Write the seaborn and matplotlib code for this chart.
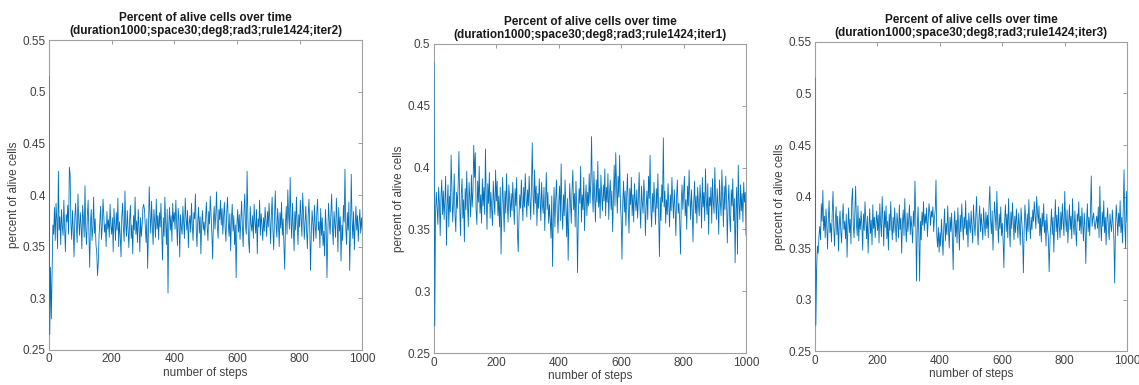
import numpy as np
import pandas as pd
import matplotlib
matplotlib.use("Agg")
import matplotlib.pyplot as plt
from matplotlib.ticker import FormatStrFormatter, MultipleLocator
import seaborn as sns

steps = np.arange(0, 1000.1, 2.5)

iter2 = [
    0.515, 0.265, 0.330, 0.280, 0.325, 0.371, 0.362, 0.388, 0.356, 0.392, 0.375, 0.348, 0.423, 0.366, 0.379, 0.352, 0.386, 0.370, 0.361, 0.395,
    0.368, 0.345, 0.381, 0.374, 0.390, 0.362, 0.427, 0.420, 0.372, 0.357, 0.385, 0.366, 0.340, 0.378, 0.392, 0.369, 0.354, 0.401, 0.376, 0.361,
    0.383, 0.371, 0.348, 0.390, 0.377, 0.359, 0.409, 0.366, 0.352, 0.380, 0.395, 0.361, 0.330, 0.374, 0.386, 0.356, 0.368, 0.398, 0.363, 0.377,
    0.352, 0.344, 0.322, 0.335, 0.361, 0.375, 0.389, 0.357, 0.369, 0.396, 0.380, 0.364, 0.372, 0.350, 0.384, 0.367, 0.376, 0.359, 0.391, 0.370,
    0.362, 0.378, 0.345, 0.387, 0.371, 0.356, 0.383, 0.366, 0.397, 0.350, 0.374, 0.361, 0.340, 0.379, 0.392, 0.368, 0.355, 0.404, 0.372, 0.360,
    0.385, 0.367, 0.349, 0.376, 0.390, 0.358, 0.371, 0.343, 0.380, 0.366, 0.398, 0.362, 0.375, 0.354, 0.386, 0.369, 0.345, 0.378, 0.360, 0.372,
    0.388, 0.391, 0.385, 0.369, 0.354, 0.377, 0.329, 0.365, 0.408, 0.381, 0.363, 0.394, 0.370, 0.352, 0.386, 0.374, 0.359, 0.396, 0.367, 0.380,
    0.357, 0.383, 0.369, 0.392, 0.364, 0.337, 0.378, 0.360, 0.398, 0.373, 0.352, 0.386, 0.305, 0.371, 0.388, 0.366, 0.380, 0.355, 0.392, 0.374,
    0.383, 0.367, 0.395, 0.372, 0.351, 0.387, 0.376, 0.340, 0.381, 0.369, 0.362, 0.389, 0.374, 0.358, 0.397, 0.378, 0.366, 0.385, 0.349, 0.372,
    0.380, 0.364, 0.392, 0.371, 0.356, 0.383, 0.377, 0.401, 0.368, 0.350, 0.375, 0.388, 0.363, 0.379, 0.343, 0.372, 0.385, 0.366, 0.374, 0.361,
    0.378, 0.393, 0.369, 0.356, 0.384, 0.372, 0.399, 0.380, 0.363, 0.338, 0.375, 0.389, 0.367, 0.381, 0.403, 0.370, 0.358, 0.386, 0.376, 0.395,
    0.371, 0.387, 0.362, 0.379, 0.393, 0.368, 0.355, 0.384, 0.398, 0.373, 0.360, 0.382, 0.346, 0.376, 0.391, 0.365, 0.380, 0.352, 0.371, 0.320,
    0.372, 0.386, 0.364, 0.381, 0.357, 0.375, 0.394, 0.368, 0.350, 0.383, 0.401, 0.370, 0.362, 0.423, 0.378, 0.355, 0.344, 0.389, 0.372, 0.365,
    0.380, 0.358, 0.391, 0.374, 0.363, 0.386, 0.343, 0.377, 0.369, 0.395, 0.361, 0.382, 0.371, 0.356, 0.378, 0.365, 0.388, 0.373, 0.360, 0.384,
    0.369, 0.392, 0.376, 0.353, 0.381, 0.398, 0.366, 0.347, 0.379, 0.404, 0.372, 0.359, 0.387, 0.374, 0.350, 0.383, 0.368, 0.393, 0.361, 0.377,
    0.354, 0.328, 0.372, 0.389, 0.362, 0.405, 0.381, 0.367, 0.417, 0.375, 0.358, 0.392, 0.370, 0.346, 0.384, 0.366, 0.398, 0.373, 0.352, 0.381,
    0.369, 0.395, 0.378, 0.360, 0.402, 0.383, 0.357, 0.374, 0.389, 0.365, 0.348, 0.379, 0.396, 0.370, 0.327, 0.362, 0.385, 0.373, 0.355, 0.390,
    0.371, 0.358, 0.383, 0.396, 0.366, 0.374, 0.349, 0.387, 0.361, 0.378, 0.351, 0.365, 0.341, 0.386, 0.370, 0.320, 0.359, 0.392, 0.375, 0.362,
    0.381, 0.401, 0.368, 0.352, 0.384, 0.372, 0.359, 0.397, 0.376, 0.345, 0.388, 0.365, 0.379, 0.336, 0.371, 0.356, 0.390, 0.374, 0.425, 0.368,
    0.352, 0.383, 0.366, 0.393, 0.327, 0.362, 0.420, 0.377, 0.358, 0.384, 0.347, 0.371, 0.389, 0.366, 0.380, 0.355, 0.374, 0.386, 0.363, 0.378,
    0.366,
]

iter1 = [
    0.485, 0.272, 0.362, 0.380, 0.368, 0.354, 0.384, 0.371, 0.345, 0.377, 0.390, 0.362, 0.381, 0.358, 0.374, 0.393, 0.337, 0.369, 0.386, 0.352,
    0.377, 0.364, 0.410, 0.383, 0.356, 0.372, 0.395, 0.361, 0.348, 0.380, 0.367, 0.385, 0.413, 0.370, 0.345, 0.379, 0.391, 0.359, 0.374, 0.340,
    0.383, 0.366, 0.397, 0.371, 0.352, 0.388, 0.375, 0.360, 0.394, 0.368, 0.381, 0.418, 0.392, 0.412, 0.366, 0.354, 0.389, 0.372, 0.401, 0.363,
    0.378, 0.355, 0.391, 0.369, 0.384, 0.362, 0.415, 0.376, 0.350, 0.387, 0.371, 0.396, 0.359, 0.380, 0.367, 0.353, 0.389, 0.374, 0.362, 0.398,
    0.373, 0.389, 0.361, 0.377, 0.352, 0.384, 0.330, 0.366, 0.392, 0.371, 0.348, 0.381, 0.363, 0.395, 0.370, 0.356, 0.386, 0.374, 0.360, 0.379,
    0.365, 0.388, 0.371, 0.354, 0.383, 0.369, 0.392, 0.346, 0.332, 0.361, 0.378, 0.367, 0.390, 0.373, 0.357, 0.384, 0.368, 0.395, 0.376, 0.360,
    0.382, 0.369, 0.393, 0.374, 0.358, 0.386, 0.420, 0.377, 0.362, 0.398, 0.371, 0.385, 0.353, 0.379, 0.367, 0.391, 0.374, 0.357, 0.388, 0.370,
    0.363, 0.384, 0.349, 0.372, 0.396, 0.366, 0.380, 0.355, 0.370, 0.358, 0.343, 0.377, 0.320, 0.361, 0.384, 0.352, 0.374, 0.390, 0.363, 0.347,
    0.372, 0.385, 0.357, 0.403, 0.366, 0.350, 0.378, 0.361, 0.390, 0.369, 0.344, 0.375, 0.325, 0.363, 0.387, 0.370, 0.355, 0.382, 0.398, 0.366,
    0.379, 0.352, 0.389, 0.367, 0.315, 0.360, 0.383, 0.371, 0.401, 0.356, 0.378, 0.366, 0.392, 0.349, 0.374, 0.386, 0.361, 0.380, 0.369, 0.395,
    0.371, 0.388, 0.425, 0.380, 0.364, 0.397, 0.375, 0.356, 0.390, 0.372, 0.405, 0.368, 0.383, 0.359, 0.394, 0.377, 0.365, 0.386, 0.373, 0.399,
    0.361, 0.384, 0.372, 0.395, 0.358, 0.379, 0.390, 0.366, 0.381, 0.348, 0.374, 0.402, 0.369, 0.412, 0.385, 0.363, 0.393, 0.376, 0.410, 0.370,
    0.358, 0.326, 0.372, 0.389, 0.364, 0.381, 0.353, 0.376, 0.395, 0.368, 0.347, 0.383, 0.370, 0.392, 0.361, 0.378, 0.356, 0.387, 0.373, 0.365,
    0.382, 0.359, 0.374, 0.396, 0.368, 0.351, 0.385, 0.372, 0.363, 0.390, 0.377, 0.345, 0.369, 0.381, 0.358, 0.393, 0.375, 0.410, 0.366, 0.352,
    0.379, 0.364, 0.388, 0.371, 0.354, 0.383, 0.367, 0.395, 0.360, 0.328, 0.376, 0.357, 0.386, 0.372, 0.424, 0.368, 0.381, 0.355, 0.374, 0.362,
    0.387, 0.370, 0.352, 0.378, 0.365, 0.392, 0.374, 0.359, 0.382, 0.368, 0.345, 0.377, 0.390, 0.363, 0.371, 0.356, 0.330, 0.373, 0.386, 0.366,
    0.379, 0.393, 0.361, 0.374, 0.350, 0.385, 0.369, 0.398, 0.376, 0.358, 0.382, 0.366, 0.340, 0.372, 0.389, 0.363, 0.377, 0.355, 0.384, 0.370,
    0.361, 0.386, 0.374, 0.351, 0.392, 0.368, 0.380, 0.357, 0.399, 0.373, 0.362, 0.387, 0.346, 0.376, 0.369, 0.384, 0.355, 0.391, 0.372, 0.363,
    0.400, 0.375, 0.358, 0.383, 0.369, 0.346, 0.390, 0.372, 0.361, 0.398, 0.377, 0.352, 0.385, 0.366, 0.393, 0.374, 0.339, 0.371, 0.386, 0.360,
    0.348, 0.382, 0.369, 0.391, 0.357, 0.375, 0.323, 0.366, 0.384, 0.330, 0.402, 0.371, 0.358, 0.386, 0.365, 0.379, 0.356, 0.388, 0.372, 0.380,
    0.345,
]

iter3 = [
    0.515, 0.275, 0.330, 0.352, 0.345, 0.362, 0.371, 0.358, 0.393, 0.376, 0.406, 0.367, 0.381, 0.360, 0.388, 0.372, 0.349, 0.379, 0.396, 0.365,
    0.374, 0.356, 0.384, 0.405, 0.369, 0.352, 0.378, 0.390, 0.363, 0.381, 0.347, 0.372, 0.386, 0.366, 0.355, 0.379, 0.393, 0.368, 0.376, 0.359,
    0.383, 0.341, 0.370, 0.389, 0.365, 0.378, 0.354, 0.396, 0.408, 0.371, 0.360, 0.385, 0.410, 0.374, 0.362, 0.391, 0.357, 0.379, 0.368, 0.386,
    0.372, 0.348, 0.383, 0.367, 0.395, 0.376, 0.359, 0.381, 0.345, 0.370, 0.388, 0.364, 0.377, 0.353, 0.392, 0.369, 0.380, 0.360, 0.374, 0.386,
    0.367, 0.382, 0.355, 0.393, 0.374, 0.361, 0.400, 0.378, 0.352, 0.386, 0.370, 0.391, 0.359, 0.376, 0.348, 0.383, 0.367, 0.395, 0.372, 0.358,
    0.380, 0.365, 0.389, 0.371, 0.356, 0.384, 0.374, 0.360, 0.392, 0.368, 0.379, 0.345, 0.375, 0.387, 0.362, 0.398, 0.371, 0.356, 0.384, 0.366,
    0.378, 0.392, 0.363, 0.381, 0.369, 0.355, 0.386, 0.371, 0.415, 0.382, 0.318, 0.368, 0.390, 0.363, 0.318, 0.376, 0.358, 0.385, 0.372, 0.395,
    0.367, 0.383, 0.374, 0.389, 0.361, 0.378, 0.393, 0.385, 0.372, 0.386, 0.380, 0.390, 0.366, 0.379, 0.387, 0.416, 0.362, 0.351, 0.370, 0.346,
    0.365, 0.352, 0.378, 0.360, 0.343, 0.371, 0.388, 0.357, 0.374, 0.363, 0.391, 0.368, 0.350, 0.380, 0.366, 0.384, 0.359, 0.329, 0.372, 0.386,
    0.361, 0.377, 0.355, 0.389, 0.370, 0.348, 0.382, 0.366, 0.393, 0.374, 0.358, 0.380, 0.369, 0.396, 0.363, 0.377, 0.351, 0.384, 0.372, 0.365,
    0.386, 0.370, 0.355, 0.392, 0.375, 0.362, 0.381, 0.400, 0.368, 0.353, 0.379, 0.391, 0.366, 0.383, 0.371, 0.358, 0.389, 0.374, 0.362, 0.385,
    0.369, 0.382, 0.360, 0.393, 0.410, 0.377, 0.364, 0.386, 0.348, 0.372, 0.395, 0.381, 0.367, 0.405, 0.376, 0.355, 0.383, 0.369, 0.390, 0.362,
    0.374, 0.357, 0.331, 0.378, 0.392, 0.366, 0.383, 0.360, 0.398, 0.372, 0.351, 0.385, 0.369, 0.394, 0.376, 0.358, 0.381, 0.365, 0.388, 0.373,
    0.360, 0.384, 0.371, 0.353, 0.389, 0.375, 0.362, 0.326, 0.369, 0.392, 0.378, 0.357, 0.383, 0.366, 0.397, 0.374, 0.359, 0.380, 0.368, 0.387,
    0.376, 0.395, 0.382, 0.369, 0.400, 0.386, 0.374, 0.391, 0.362, 0.379, 0.356, 0.384, 0.371, 0.393, 0.365, 0.377, 0.352, 0.383, 0.369, 0.361,
    0.327, 0.355, 0.372, 0.388, 0.363, 0.380, 0.346, 0.374, 0.397, 0.366, 0.382, 0.358, 0.390, 0.371, 0.360, 0.385, 0.368, 0.393, 0.376, 0.362,
    0.405, 0.379, 0.366, 0.387, 0.355, 0.374, 0.392, 0.368, 0.381, 0.359, 0.398, 0.373, 0.363, 0.386, 0.370, 0.352, 0.383, 0.376, 0.395, 0.367,
    0.381, 0.364, 0.389, 0.372, 0.357, 0.384, 0.370, 0.335, 0.375, 0.393, 0.366, 0.380, 0.362, 0.387, 0.420, 0.371, 0.379, 0.384, 0.373, 0.368,
    0.376, 0.381, 0.369, 0.390, 0.360, 0.410, 0.374, 0.357, 0.385, 0.371, 0.396, 0.365, 0.380, 0.353, 0.377, 0.389, 0.368, 0.358, 0.383, 0.372,
    0.366, 0.387, 0.374, 0.359, 0.316, 0.370, 0.392, 0.378, 0.362, 0.384, 0.371, 0.396, 0.365, 0.380, 0.355, 0.388, 0.426, 0.374, 0.350, 0.405,
    0.375,
]

panels = [
    ("iter2", iter2, (0.25, 0.55), [0.043, 0.091, 0.275, 0.805]),
    ("iter1", iter1, (0.25, 0.5), [0.381, 0.083, 0.274, 0.803]),
    ("iter3", iter3, (0.25, 0.55), [0.7156, 0.088, 0.274, 0.803]),
]

sns.set_style("white")
plt.rcParams['font.family'] = ['Liberation Sans', 'DejaVu Sans']

fig = plt.figure(figsize=(11.39, 3.85), dpi=100)

for name, vals, ylim, rect in panels:
    ax = fig.add_axes(rect)
    df = pd.DataFrame({'step': steps, 'alive': vals})
    sns.lineplot(data=df, x='step', y='alive', ax=ax, color='#0072BD', lw=0.6, zorder=3)
    ax.set_xlim(0, 1000)
    ax.set_ylim(*ylim)
    ax.xaxis.set_major_locator(MultipleLocator(200))
    ax.yaxis.set_major_locator(MultipleLocator(0.05))
    ax.yaxis.set_major_formatter(FormatStrFormatter('%g'))
    ax.tick_params(direction='in', top=True, right=True, length=3, width=0.6, pad=2.5,
                   colors='#8c8c8c', labelcolor='#404040', labelsize=8.5)
    for s in ax.spines.values():
        s.set_color('#a0a0a0')
        s.set_linewidth(0.8)
    ax.set_xlabel('number of steps', fontsize=8.5, color='#404040', labelpad=1)
    ax.set_ylabel('percent of alive cells', fontsize=8.5, color='#404040', labelpad=2)
    ax.set_title('Percent of alive cells over time\n(duration1000;space30;deg8;rad3;rule1424;' + name + ')',
                 fontsize=8.5, fontweight='bold', color='#1a1a1a', pad=4, linespacing=1.15)

fig.savefig('out.png', dpi=100)
